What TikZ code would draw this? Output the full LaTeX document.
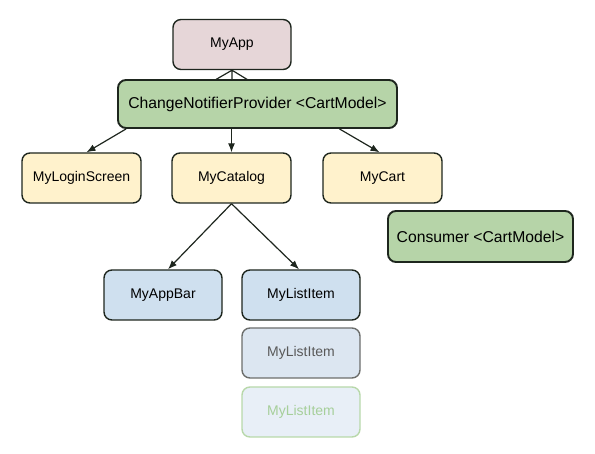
\documentclass[tikz,border=0pt]{standalone}
\usepackage{fontspec}
\setmainfont{Liberation Sans}
\usetikzlibrary{arrows.meta}
\definecolor{apppink}{HTML}{E6D6D8}
\definecolor{provgreen}{HTML}{B6D4A8}
\definecolor{widgetyellow}{HTML}{FFF2CC}
\definecolor{widgetblue}{HTML}{CFE0EF}
\definecolor{fadeblue}{HTML}{DCE6F1}
\definecolor{paleblue}{HTML}{E8EFF7}
\definecolor{paleline}{HTML}{B8D8AA}
\definecolor{paletext}{HTML}{A6CF9A}
\definecolor{edge}{HTML}{1E261E}
\begin{document}
\begin{tikzpicture}[x=1pt, y=1pt,
    widget/.style={draw=edge, line width=1.4pt, rounded corners=8pt,
        minimum width=118pt, minimum height=50pt, font=\fontsize{14}{16}\selectfont},
    model/.style={widget, line width=1.9pt, font=\fontsize{15.7}{18}\selectfont},
    link/.style={-{Latex[length=9pt, width=7pt]}, draw=edge, line width=1.2pt}]
    \useasboundingbox (0,0) rectangle (595,-454);
    % top of the tree
    \node (app)[widget, fill=apppink] at (232,-44.5){MyApp};
    \draw[draw=edge, line width=1.2pt] (app.south)--++(0,-11)
        (app.south)--++(-19,-11) (app.south)--++(18,-11);
    \node (prov)[model, fill=provgreen, minimum width=279pt, minimum height=48pt] at (257.5,-104){ChangeNotifierProvider <CartModel>};
    % second row
    \node (login)[widget, fill=widgetyellow, minimum width=119pt] at (81.5,-178){MyLoginScreen};
    \node (catalog)[widget, fill=widgetyellow, minimum width=119pt] at (231.5,-178){MyCatalog};
    \node (cart)[widget, fill=widgetyellow, minimum width=119pt] at (382.5,-178){MyCart};
    \node (consumer)[model, fill=provgreen, minimum width=185pt, minimum height=51pt] at (480.5,-236.5){Consumer <CartModel>};
    % third row
    \node (appbar)[widget, fill=widgetblue] at (163,-295){MyAppBar};
    \node (item1)[widget, fill=widgetblue] at (301,-295){MyListItem};
    \node (item2)[widget, fill=fadeblue, draw=gray!80!edge, text=black!65] at (301,-353){MyListItem};
    \node (item3)[widget, fill=paleblue, draw=paleline, text=paletext] at (301,-412){MyListItem};
    \draw [link]([xshift=9pt]prov.south west)--([xshift=5pt]login.north);
    \draw [link](prov.south -| catalog.north)--(catalog.north);
    \draw [link]([xshift=82pt]prov.south)--([xshift=-3pt]cart.north);
    \draw [link](catalog.south)--([xshift=5pt]appbar.north);
    \draw [link](catalog.south)--([xshift=-2pt]item1.north);
\end{tikzpicture}
\end{document}
